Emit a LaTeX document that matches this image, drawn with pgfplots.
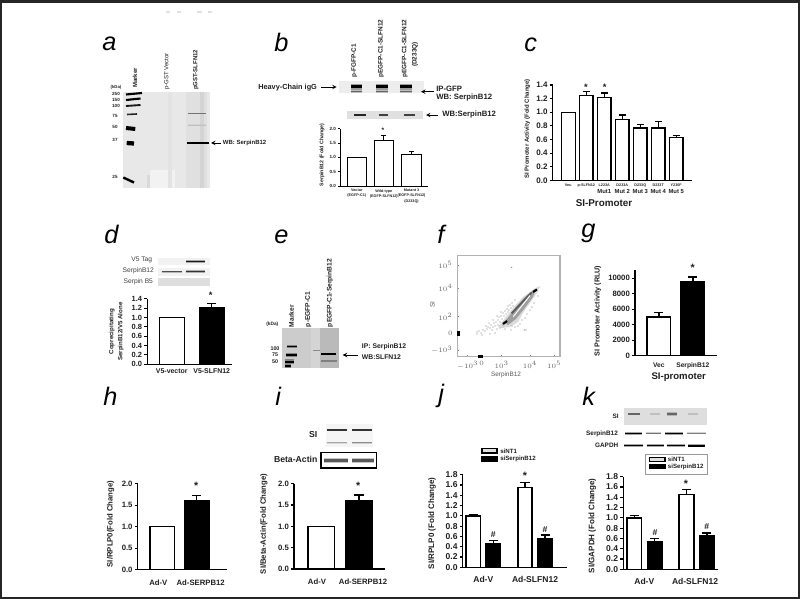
\documentclass[border=0pt]{standalone}
\usepackage{fontspec}
\setmainfont{Liberation Sans}
\usepackage{pgfplots}
\pgfplotsset{compat=1.18}
\definecolor{txt}{gray}{0.12}
\pgfplotsset{
  bx/.style n args={5}{scale only axis, anchor=south west,
    at={({#1*0.75pt},{(599-#2)*0.75pt})},
    width={(#3-#1)*0.75pt}, height={(#2-#4)*0.75pt},
    xmin=#1,xmax=#3,ymin=0,ymax=#5,
    axis lines=left, axis line style={-,line width=1pt,black},
    x tick style={draw=none}, major tick length=2.2pt, tick align=outside,
    y tick style={black,line width=0.8pt},
    scaled y ticks=false,
    /pgf/number format/assume math mode=true,
    /pgf/number format/fixed,/pgf/number format/fixed zerofill,/pgf/number format/precision=1,
    clip=false, xticklabel style={align=center,text=txt,inner sep=1pt}, yticklabel style={text=txt,inner sep=1.5pt},
  },
  fs/.style={tick label style={font=\fontsize{#1}{#1}\selectfont\bfseries}},
}
% text node in pixel coordinates of the canvas axis
\newcommand\T[5][]{\node[inner sep=0pt,text=txt,#1] at (axis cs:#2,#3) {\fontsize{#4}{#4}\selectfont\bfseries #5};}
\newcommand\N[5][]{\node[inner sep=0pt,text=black!65,#1] at (axis cs:#2,#3) {\fontsize{#4}{#4}\selectfont #5};}
\newcommand\PL[3]{\node[inner sep=0pt,anchor=base west,text=black] at (axis cs:#1,#2) {\fontsize{19}{19}\selectfont\itshape #3};}
\newcommand\G[5]{\addplot[draw=none,fill=#5,forget plot] coordinates {(#1,#2)(#3,#2)(#3,#4)(#1,#4)} --cycle;}
\newcommand\B[5]{\addplot[line width=2*#4pt,color=#5,opacity=0.35,forget plot] coordinates {(#1,#3)(#2,#3)};
  \addplot[line width=#4pt,color=#5,forget plot] coordinates {(#1,#3)(#2,#3)};}
\newcommand\A[3]{\addplot[line width=0.5pt,black,-{stealth},forget plot] coordinates {(#1,#3)(#2,#3)};}
\newcommand\Bx[6]{\addplot[draw=black,line width=0.8pt,fill=#5,forget plot] coordinates {(#1,#2)(#3,#2)(#3,#4)(#1,#4)} --cycle;}
% one bar with upper error: x,y,err,barwidth,fill,linewidth,capsize
\newcommand\Bar[7]{\addplot[ybar,bar width=#4,fill=#5,draw=black,line width=#6pt,forget plot,
   error bars/.cd,y dir=plus,y explicit,error bar style={line width=#6pt,black},
   error mark options={line width=#6pt,black,mark size=#7pt,rotate=90}] coordinates {(#1,#2) +- (0,#3)};}
\begin{document}
\begin{tikzpicture}
\useasboundingbox (0,0) rectangle (600pt,449.25pt);
% ---------------- canvas: blots, texts, frame --------------
\begin{axis}[scale only axis,anchor=south west,at={(0,0)},width=600pt,height=449.25pt,
  xmin=0,xmax=800,ymin=0,ymax=599,y dir=reverse,hide axis,clip=false]
\addplot[line width=1.6pt,color=black!85,forget plot] coordinates {(1,1.5)(799,1.5)(799,598)(1,598)} --cycle;
\addplot[line width=1pt,color=black!12,forget plot] coordinates {(166,12)(170,12)};
\addplot[line width=1pt,color=black!12,forget plot] coordinates {(177,12)(181,12)};
\addplot[line width=1pt,color=black!12,forget plot] coordinates {(197,12)(202,12)};
\addplot[line width=1pt,color=black!12,forget plot] coordinates {(208,12)(212,12)};
% panel letters
\PL{102}{50.7}{a}\PL{274}{51.7}{b}\PL{524}{51.7}{c}
\PL{104}{243.3}{d}\PL{274}{243.3}{e}\PL{437}{243.3}{f}\PL{581}{238}{g}
\PL{103}{405}{h}\PL{275}{405}{i}\PL{438}{402}{j}\PL{582}{405}{k}
% ===== a
\G{122.7}{92.3}{210}{188.3}{black!9}
\G{150}{170}{175}{188.3}{black!5}
\G{168}{92.3}{172}{188}{black!11}
\G{186}{92.3}{207}{188}{black!12}
\G{200}{92.3}{204}{188}{black!17}
\G{147}{175}{150}{188}{black!15}
\addplot[line width=1.6pt,black,forget plot] coordinates {(126,94.5)(142,93)};
\addplot[line width=1.6pt,black,forget plot] coordinates {(126,100)(140.5,98.5)};
\addplot[line width=1.4pt,black!90,forget plot] coordinates {(126,106)(140.5,105)};
\addplot[line width=1.2pt,black!85,forget plot] coordinates {(127,114.5)(137,114)};
\addplot[line width=3pt,black,forget plot] coordinates {(126,128)(135.3,129)};
\addplot[line width=3.2pt,black,forget plot] coordinates {(126.7,143)(134,143.5)};
\addplot[line width=1.8pt,black,forget plot] coordinates {(123.3,177.5)(134,182.5)};
\B{187}{209}{143}{1.1}{black}
\B{188}{206}{113.3}{0.5}{black!55}
\B{188}{206}{125}{0.5}{black!25}
\N[anchor=west,rotate=90,text=txt]{135}{88}{4.5}{\bfseries Marker}
\N[anchor=west,rotate=90,text=txt]{167}{90}{4.5}{p-GST Vector}
\N[anchor=west,rotate=90,text=txt]{196}{90}{4.5}{\bfseries pGST-SLFN12}
\T{116}{87}{3.2}{(kDa)}\T{116}{94}{3.4}{250}\T{116}{100}{3.4}{150}\T{116}{106}{3.4}{100}
\T{115}{115.7}{3.4}{75}\T{115}{127.3}{3.4}{50}\T{115}{140}{3.4}{37}\T{115}{176.7}{3.4}{25}
\A{220.7}{211}{143}
\T[anchor=west]{222.7}{143.3}{4.5}{WB: SerpinB12}
% ===== b
\G{339}{80.7}{424}{93.3}{black!7}
\G{346.7}{111}{423.3}{119.3}{black!12}
\B{351}{361.7}{86.7}{2.2}{black}\B{351}{361.7}{91.7}{1}{black!60}
\B{375.7}{387.7}{86.7}{2.2}{black}\B{375.7}{387.7}{91.7}{1}{black!60}
\B{400}{411.7}{86.7}{2.2}{black}\B{400}{411.7}{91.7}{1}{black!60}
\B{354.3}{365.7}{115}{0.9}{black!85}\B{379}{388.3}{115}{0.8}{black!75}\B{404.3}{415}{115}{0.8}{black!75}
\T[anchor=west,rotate=90]{354.3}{77.7}{4.8}{p-FGFP-C1}
\T[anchor=west,rotate=90]{381}{77.7}{4.8}{pEGFP-C1-SLFN12}
\T[anchor=west,rotate=90]{404.7}{77.7}{4.8}{pEGFP-C1-SLFN12}
\T[rotate=90]{415}{54.5}{4.8}{(D233Q)}
\T[anchor=west]{258}{87.3}{5.5}{Heavy-Chain igG}
\A{321}{336.7}{87}
\A{434}{421}{91.7}
\T[anchor=west]{436}{88.5}{5.8}{IP-GFP}
\T[anchor=west]{436}{97.5}{5.8}{WB: SerpinB12}
\A{438}{426}{115}
\T[anchor=west]{442}{115}{5.8}{WB:SerpinB12}
\T[rotate=90]{322}{155}{3.9}{SerpinB12 (Fold Change)}
\T{383}{130}{5}{*}
% ===== c
\T[rotate=90]{527.3}{128.7}{4.5}{SI Promoter Activity (Fold Change)}
\T{604}{203}{7.4}{SI-Promoter}
\T{586}{87}{7}{*}\T{604.7}{87}{7}{*}
% ===== d
\G{158}{257.7}{210}{265}{black!5}
\G{158}{267.7}{210}{276}{black!5}
\G{158}{278.3}{210}{286}{black!13}
\B{186}{205}{261.3}{1.1}{black!90}
\B{161.7}{181.7}{271.7}{0.8}{black!70}\B{185.7}{205}{271.7}{1.1}{black!80}
\N[text=black!75]{141.7}{260.3}{5}{V5 Tag}
\N[text=black!75]{138.3}{271}{5}{SerpinB12}
\N[text=black!75]{138.3}{281.7}{5}{Serpin B5}
\T[rotate=90]{111.7}{331.7}{4.6}{Coprecipitating}
\T[rotate=90]{120.7}{331.7}{4.6}{SerpinB12/V5 Alone}
\T{210.7}{295}{7}{*}
% ===== e
\G{282}{328.3}{339.3}{368.3}{black!20}
\G{311}{328.3}{320}{368.3}{black!17}
\G{320}{328.3}{339.3}{368.3}{black!27}
\B{287}{296.7}{346.7}{1}{black}
\B{286}{296.7}{355}{1.6}{black}
\B{285}{294}{361.7}{1.8}{black}
\B{285}{291}{366}{1.6}{black}
\B{320.7}{336}{354}{1.1}{black}
\B{313}{320}{350.7}{0.5}{black!45}
\B{321}{337}{361}{0.8}{black!50}
\T[anchor=west,rotate=90]{291.5}{327.3}{5}{Marker}
\T[anchor=west,rotate=90]{308.3}{327.3}{5}{p-EGFP-C1}
\T[anchor=west,rotate=90]{330}{327.3}{5}{pEGFP-C1-SerpinB12}
\T{272.3}{324.3}{3.6}{(kDa)}\T{275}{348.3}{4}{100}\T{275}{355}{4}{75}\T{275}{361.7}{4}{50}
\A{357.7}{342.7}{355}
\T[anchor=west]{361.7}{347}{5.1}{IP: SerpinB12}
\T[anchor=west]{361.7}{356.7}{5.1}{WB:SLFN12}
% ===== f texts
\N{506}{375.3}{4.8}{SerpinB12}
\N[rotate=90]{432.3}{304.3}{4.8}{SI}
% ===== g
\T[rotate=90]{597.7}{311}{5.4}{SI Promoter Activity (RLU)}
\T{678.7}{376.7}{7.2}{SI-promoter}
\T{692.7}{268}{8}{*}
% ===== h
\T[rotate=90]{110.7}{524}{5.8}{SI/RPLP0(Fold Change)}
\T{196.3}{486}{8}{*}
% ===== i
\G{326}{424}{372.7}{446.7}{black!4}
\B{326.7}{346.7}{430}{1.1}{black!80}\B{352.3}{371.7}{430}{1.1}{black!80}
\B{326.7}{346.7}{442.7}{0.6}{black!35}\B{352.3}{371.7}{442.7}{0.6}{black!45}
\B{324.3}{348.3}{460.3}{2}{black!65}\B{351.7}{374}{460.3}{2}{black!65}
\Bx{321}{452.7}{376.7}{468}{none}{}
\T{313.3}{434.3}{6.5}{SI}
\T{295.7}{459.7}{6.5}{Beta-Actin}
\T[rotate=90]{264}{524}{5.8}{SI/Beta-Actin(Fold Change)}
\T{358.3}{486}{8}{*}
% ===== j
\T[rotate=90]{432}{523.3}{6}{SI/RPLP0 (Fold Change)}
\T{525}{476}{8}{*}
\T{493.3}{535}{6.5}{\#}\T{545}{529.3}{6.5}{\#}
\Bx{482}{448.5}{497}{453}{black!12}{}
\Bx{482}{456.3}{497}{461.3}{black}{}
\T[anchor=west]{500}{451}{4.6}{siNT1}
\T[anchor=west]{500}{459}{4.6}{siSerpinB12}
% ===== k
\G{624.3}{408.3}{707.3}{425}{black!13}
\B{628}{640}{414}{1}{black!60}\B{666.7}{677.3}{414}{1.2}{black!60}
\B{650}{660}{414}{0.8}{black!25}\B{688}{698}{414}{0.8}{black!25}
\B{625}{641.7}{433.3}{1}{black}\B{645.7}{660.7}{433.3}{0.7}{black!55}
\B{665}{682.7}{433.3}{1}{black}\B{687.3}{706}{433.3}{0.7}{black!50}
\B{624}{643.3}{445.7}{1}{black}\B{646.7}{664}{445.7}{1}{black}
\B{666.7}{685}{445.7}{1}{black}\B{688.3}{705}{445.7}{1.2}{black}
\T[anchor=east]{619}{416.7}{4.8}{SI}
\T{602}{434.3}{4.8}{SerpinB12}
\T{606.7}{445.3}{4.8}{GAPDH}
\addplot[line width=0.5pt,black!40,forget plot] coordinates {(645,454)(707.3,454)(707.3,474)(645,474)} --cycle;
\Bx{649.5}{457.5}{665}{461.5}{black!12}{}
\Bx{649.5}{464.5}{665}{468.8}{black}{}
\T[anchor=west]{667.7}{459.7}{4.6}{siNT1}
\T[anchor=west]{667.7}{466.7}{4.6}{siSerpinB12}
\T[rotate=90]{592.3}{525.7}{6}{SI/GAPDH (Fold Change)}
\T{686}{484}{8}{*}
\T{655}{532.3}{6.5}{\#}\T{706.7}{526.7}{6.5}{\#}
\end{axis}
% ===== b chart
\begin{axis}[bx={340}{186}{428}{128.7}{2.0},fs=3.4,ytick={0,0.5,1,1.5,2},
  xtick={356.8,383.8,411.5},
  xticklabels={{Vector\\(EGFP-C1)},{Wild-type\\(EGFP-SLFN12)},{Mutant 3\\(EGFP-SLFN12)\\(D233Q)}},
  axis line style={-,line width=0.6pt},y tick style={line width=0.5pt},major tick length=1.3pt,
  xticklabel style={font=\fontsize{2.8}{3.8}\selectfont\bfseries}]
\Bar{356.8}{1.0}{0}{19.7}{white}{0.6}{1.9}
\Bar{383.8}{1.6}{0.18}{19.7}{white}{0.6}{1.9}
\Bar{411.5}{1.1}{0.1}{19.7}{white}{0.6}{1.9}
\end{axis}
% ===== c chart
\begin{axis}[bx={552.7}{180.3}{691.7}{85}{1.4},fs=6,ytick={0,0.2,0.4,0.6,0.8,1.0,1.2,1.4},
  xtick={568.5,586.3,604.3,622.3,640.3,658.2,676.2},
  xticklabels={{\fontsize{2.8}{3}\selectfont Vec.\\[0.8pt]\ },{\fontsize{2.8}{3}\selectfont p-SLFN12\\[0.8pt]\ },
   {\fontsize{2.8}{3}\selectfont L223A\\[0.8pt]Mut1},{\fontsize{2.8}{3}\selectfont D233A\\[0.8pt]Mut 2},
   {\fontsize{2.8}{3}\selectfont D233Q\\[0.8pt]Mut 3},{\fontsize{2.8}{3}\selectfont D233T\\[0.8pt]Mut 4},{\fontsize{2.8}{3}\selectfont Y230F\\[0.8pt]Mut 5}},
  xticklabel style={font=\fontsize{4.4}{5}\selectfont\bfseries,yshift=1pt}]
\Bar{568.5}{1.0}{0}{13.6}{white}{1}{2.6}
\Bar{586.3}{1.25}{0.05}{13.6}{white}{1}{2.6}
\Bar{604.3}{1.22}{0.06}{13.6}{white}{1}{2.6}
\Bar{622.3}{0.89}{0.07}{13.6}{white}{1}{2.6}
\Bar{640.3}{0.77}{0.05}{13.6}{white}{1}{2.6}
\Bar{658.2}{0.77}{0.09}{13.6}{white}{1}{2.6}
\Bar{676.2}{0.63}{0.03}{13.6}{white}{1}{2.6}
\end{axis}
% ===== d chart
\begin{axis}[bx={147.3}{364.3}{231.7}{298.7}{1.4},fs=5.6,ytick={0,0.2,0.4,0.6,0.8,1.0,1.2,1.4},
  xtick={171.8,211.7},xticklabels={V5-vector,V5-SLFN12},xticklabel style={font=\fontsize{5.2}{6}\selectfont\bfseries}]
\Bar{171.8}{1.0}{0}{25}{white}{1}{3.6}
\Bar{211.7}{1.2}{0.1}{25}{black}{1}{3.6}
\end{axis}
% ===== f chart (flow cytometry, x and y in picture position)
\begin{axis}[scale only axis,anchor=south west,at={(342.975pt,{(599-356.7)*0.75pt})},width=77pt,height=75.75pt,
  xmin=457.3,xmax=560,ymin=255.7,ymax=356.7,y dir=reverse,
  axis line style={black!30,line width=1pt},
  tick label style={font=\fontsize{3.3}{4}\selectfont,text=black!60},
  xtick={467.7,481.7,501.7,530,554.3},xticklabels={$-10^3$,$0$,$10^3$,$10^4$,$10^5$},
  ytick={265,288,316.7,333,350},yticklabels={$10^5$,$10^4$,$10^2$,$0$,$-10^3$},
  xtick pos=bottom,ytick pos=left,major tick length=1pt,tick style={black!50,line width=0.3pt},
  minor xtick={462,472,486,491,495,498,506,510,514,518,522,526,535,540,544,548,551},
  minor ytick={260,270,275,279,283,294,298,302,306,311,322,327,338,344},
  minor tick length=0.8pt,tick align=inside]
\addplot[draw=none,fill=black!14,forget plot] coordinates {(498,327)(505,318)(513,308)(523,297)(535,288)(540.5,286)(537,293)(530,303)(523,313)(518,322)(510,327)(502,328)} --cycle;
\addplot[draw=none,fill=black!38,forget plot] coordinates {(505,322)(515,308)(525,297)(536,289)(533,297)(524,309)(516,319)(508,325)} --cycle;
\addplot[line width=1.3pt,black!65,forget plot] coordinates {(511.7,313.3)(531.7,292.3)};
\addplot[line width=0.7pt,white,forget plot] coordinates {(513.3,316.7)(530,295.5)};
\addplot[line width=1.6pt,black,forget plot] coordinates {(533,292)(537,289.5)};
\addplot[line width=1.6pt,black,forget plot] coordinates {(503,324)(507,321)};
\addplot[only marks,mark=*,mark size=0.25pt,color=black!40,forget plot] coordinates {
(477,332)(479,331)(481,333)(483,330)(485,331)(487,329)(488,327)(490,328)(491,325)(492,330)(493,327)(494,323)
(495,326)(496,322)(497,329)(498,320)(498,325)(499,317)(500,322)(500,328)(501,316)(502,319)(503,313)(503,325)
(504,316)(505,311)(505,329)(506,314)(507,309)(507,319)(508,306)(508,312)(509,310)(510,305)(511,308)(512,303)
(513,306)(515,300)(512,326)(515,327)(518,326)(520,324)(522,320)(525,318)(527,314)(530,310)(532,307)(534,303)
(538,296)(511,330)(526,330)(477,334)(482,335)(490,334)(495,333)(511.7,267.3)(524.3,330)(486,326)(489,323)(493,320)(497,316)(501,312)};
\addplot[only marks,mark=square*,mark size=0.6pt,black,forget plot] coordinates {(458,332)(458,334)(479,356)(481,356)};
\end{axis}
% ===== g chart
\begin{axis}[bx={635}{355.7}{716.7}{270}{11078},fs=5.8,ytick={0,2000,4000,6000,8000,10000},
  /pgf/number format/precision=0,/pgf/number format/1000 sep={},
  xtick={658.8,692.8},xticklabels={Vec,SerpinB12},xticklabel style={font=\fontsize{5}{6}\selectfont\bfseries,yshift=-2pt}]
\Bar{658.8}{5000}{550}{23.8}{white}{1.1}{3.4}
\Bar{692.8}{9500}{650}{23.8}{black}{1.1}{3.4}
\end{axis}
% ===== h chart
\begin{axis}[bx={137.7}{569.7}{226.7}{483.7}{2.0},fs=5.8,ytick={0,0.5,1,1.5,2},
  xtick={158.3,200.7},xticklabels={Ad-V,Ad-SERPB12},xticklabel style={font=\fontsize{5.8}{6}\selectfont\bfseries,yshift=-4pt}]
\Bar{162.2}{1.0}{0}{24.5}{white}{1.1}{3.6}
\Bar{196.7}{1.6}{0.13}{24.5}{black}{1.1}{3.6}
\end{axis}
% ===== i chart
\begin{axis}[bx={294}{569}{385}{483.7}{2.0},fs=5.8,ytick={0,0.5,1,1.5,2},
  xtick={317,363},xticklabels={Ad-V,Ad-SERPB12},xticklabel style={font=\fontsize{5.8}{6}\selectfont\bfseries,yshift=-4pt}]
\Bar{321.2}{1.0}{0}{26.5}{white}{1.1}{3.8}
\Bar{358.8}{1.6}{0.13}{26.5}{black}{1.1}{3.8}
\end{axis}
% ===== j chart
\begin{axis}[bx={462.7}{567.3}{566.7}{474.7}{1.8},fs=6.4,ytick={0,0.2,0.4,0.6,0.8,1.0,1.2,1.4,1.6,1.8},
  xtick={483.3,535},xticklabels={Ad-V,Ad-SLFN12},xticklabel style={font=\fontsize{6.4}{7}\selectfont\bfseries,yshift=-3pt}]
\Bar{473.2}{1.0}{0.03}{14.4}{white}{1.1}{3.4}
\Bar{493.3}{0.45}{0.07}{14.4}{black}{1.1}{3.4}
\Bar{525}{1.55}{0.1}{14.4}{white}{1.1}{3.4}
\Bar{545.2}{0.55}{0.08}{14.4}{black}{1.1}{3.4}
\end{axis}
% ===== k chart
\begin{axis}[bx={623.3}{569.3}{718}{476.7}{1.8},fs=6.4,ytick={0,0.2,0.4,0.6,0.8,1.0,1.2,1.4,1.6,1.8},
  xtick={644.3,695},xticklabels={Ad-V,Ad-SLFN12},xticklabel style={font=\fontsize{6.4}{7}\selectfont\bfseries,yshift=-3pt}]
\Bar{634.3}{1.0}{0.05}{14.8}{white}{1.1}{3.4}
\Bar{654.7}{0.53}{0.07}{14.8}{black}{1.1}{3.4}
\Bar{686.5}{1.45}{0.1}{14.8}{white}{1.1}{3.4}
\Bar{706.8}{0.65}{0.06}{14.8}{black}{1.1}{3.4}
\end{axis}
\end{tikzpicture}
\end{document}
